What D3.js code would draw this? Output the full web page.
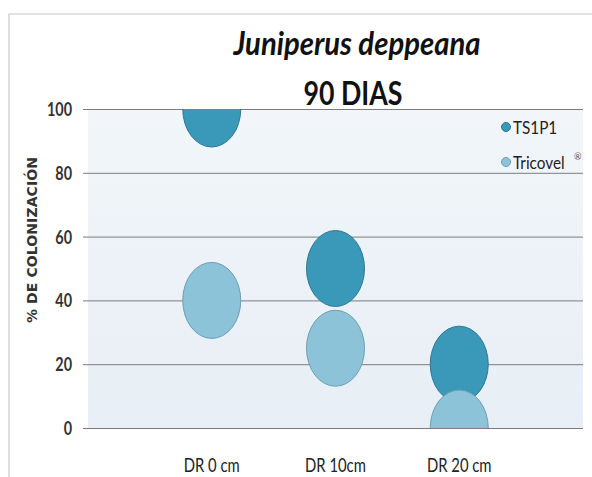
<!DOCTYPE html>
<html>
<head>
<meta charset="utf-8">
<script src="https://cdn.jsdelivr.net/npm/d3@7/dist/d3.min.js"></script>
<style>
  body { margin: 0; background: #fff; }
  svg { display: block; }
</style>
</head>
<body>
<div class="chart"></div>
<script>
// datos del gráfico
var categories = ["DR 0 cm", "DR 10cm", "DR 20 cm"];
var seriesNames = ["TS1P1", "Tricovel"];
var ts1p1 = [100, 50, 20];
var tricovel = [40, 25, 0];
var yTicks = [0, 20, 40, 60, 80, 100];

var width = 592, height = 477;
var margin = {top: 109, right: 9, bottom: 49, left: 88};
var colors = {TS1P1: "#3a98b8", Tricovel: "#8cc3d9"};
var strokes = {TS1P1: "#2a7893", Tricovel: "#6a9fb5"};
var font = "Lato, 'Open Sans', sans-serif";

// estrecha el texto para imitar la fuente condensada del original
function condense(sel, f){
    sel.each(function(){
        var w = this.getComputedTextLength();
        d3.select(this).attr("textLength", w * f).attr("lengthAdjust", "spacingAndGlyphs");
    });
}

var svg = d3.select(".chart").append("svg")
    .attr("width", width)
    .attr("height", height);

// marco exterior
svg.append("path")
    .attr("d", "M9," + height + "V14H" + width)
    .attr("fill", "none")
    .attr("stroke", "#c8c8c8")
    .attr("stroke-width", 1.2);

var xScale = d3.scaleLinear()
    .domain([0, 4])
    .range([margin.left, width - margin.right]);
var yScale = d3.scaleLinear()
    .domain([0, 100])
    .range([height - margin.bottom, margin.top]);

// fondo del área de trazado
var defs = svg.append("defs");
var bg = defs.append("linearGradient")
    .attr("id", "bg").attr("x1", 0).attr("y1", 0).attr("x2", 0).attr("y2", 1);
bg.append("stop").attr("offset", "0%").attr("stop-color", "#f2f6fa");
bg.append("stop").attr("offset", "100%").attr("stop-color", "#e7eef5");
defs.append("clipPath").attr("id", "plot")
    .append("rect")
    .attr("x", xScale(0)).attr("y", yScale(100))
    .attr("width", xScale(4) - xScale(0))
    .attr("height", yScale(0) - yScale(100));

svg.append("rect")
    .attr("x", xScale(0)).attr("y", yScale(100))
    .attr("width", xScale(4) - xScale(0))
    .attr("height", yScale(0) - yScale(100))
    .attr("fill", "url(#bg)");

// eje y con líneas de cuadrícula
var yAxis = d3.axisLeft(yScale)
    .tickValues(yTicks)
    .tickSize(-(xScale(4) - xScale(0) + 5))
    .tickPadding(11);
var gy = svg.append("g")
    .attr("class", "y-axis")
    .attr("transform", "translate(" + (margin.left - 5) + ",0)")
    .call(yAxis);
gy.select(".domain").remove();
gy.selectAll("line").attr("stroke", "#7c7c7c").attr("stroke-width", 1);
gy.selectAll("text")
    .attr("fill", "#333")
    .attr("font-family", font)
    .attr("font-size", 18)
    .attr("font-weight", "bold")
    .attr("dy", "0.36em")
    .call(condense, 0.8);

// etiquetas de categoría
svg.append("g").selectAll("text")
    .data(categories)
    .enter().append("text")
    .attr("x", function(d, i){ return xScale(i + 1); })
    .attr("y", 472)
    .attr("text-anchor", "middle")
    .attr("font-family", font)
    .attr("font-size", 19)
    .attr("fill", "#222")
    .text(function(d){ return d; })
    .call(condense, 0.78);

// burbujas
var points = [];
categories.forEach(function(c, i){
    points.push({s: "TS1P1", i: i, v: ts1p1[i]});
    points.push({s: "Tricovel", i: i, v: tricovel[i]});
});

svg.append("g")
    .attr("clip-path", "url(#plot)")
    .selectAll("ellipse")
    .data(points)
    .enter().append("ellipse")
    .attr("cx", function(d){ return xScale(d.i + 1); })
    .attr("cy", function(d){ return yScale(d.v); })
    .attr("rx", 29)
    .attr("ry", 38)
    .attr("fill", function(d){ return colors[d.s]; })
    .attr("stroke", function(d){ return strokes[d.s]; })
    .attr("stroke-width", 1);

// títulos
svg.append("text")
    .attr("x", 357).attr("y", 55)
    .attr("text-anchor", "middle")
    .attr("font-family", font)
    .attr("font-size", 32)
    .attr("font-style", "italic")
    .attr("font-weight", "bold")
    .attr("fill", "#111")
    .attr("textLength", 247)
    .attr("lengthAdjust", "spacingAndGlyphs")
    .text("Juniperus deppeana");
svg.append("text")
    .attr("x", 353).attr("y", 105)
    .attr("text-anchor", "middle")
    .attr("font-family", font)
    .attr("font-size", 32)
    .attr("font-weight", "bold")
    .attr("fill", "#111")
    .attr("textLength", 99)
    .attr("lengthAdjust", "spacingAndGlyphs")
    .text("90 DIAS");

// título del eje y
svg.append("text")
    .attr("transform", "translate(37,240) rotate(-90)")
    .attr("text-anchor", "middle")
    .attr("font-family", "'DejaVu Sans', sans-serif")
    .attr("font-size", 14)
    .attr("font-weight", "bold")
    .attr("fill", "#333")
    .attr("textLength", 166)
    .attr("lengthAdjust", "spacing")
    .text("% DE COLONIZACIÓN");

// leyenda
var legend = svg.append("g").selectAll("g")
    .data(seriesNames)
    .enter().append("g")
    .attr("transform", function(d, i){ return "translate(506," + (127 + i * 35) + ")"; });
legend.append("circle")
    .attr("r", 4.5)
    .attr("fill", function(d){ return colors[d]; })
    .attr("stroke", function(d){ return strokes[d]; });
legend.append("text")
    .attr("x", 7).attr("y", 6.5)
    .attr("font-family", font)
    .attr("font-size", 18)
    .attr("fill", "#222")
    .text(function(d){ return d; })
    .call(condense, 0.85);
legend.filter(function(d){ return d === "Tricovel"; })
    .append("text")
    .attr("x", 68).attr("y", -2)
    .attr("font-family", font)
    .attr("font-size", 9)
    .attr("fill", "#555")
    .text("®");
</script>
</body>
</html>
